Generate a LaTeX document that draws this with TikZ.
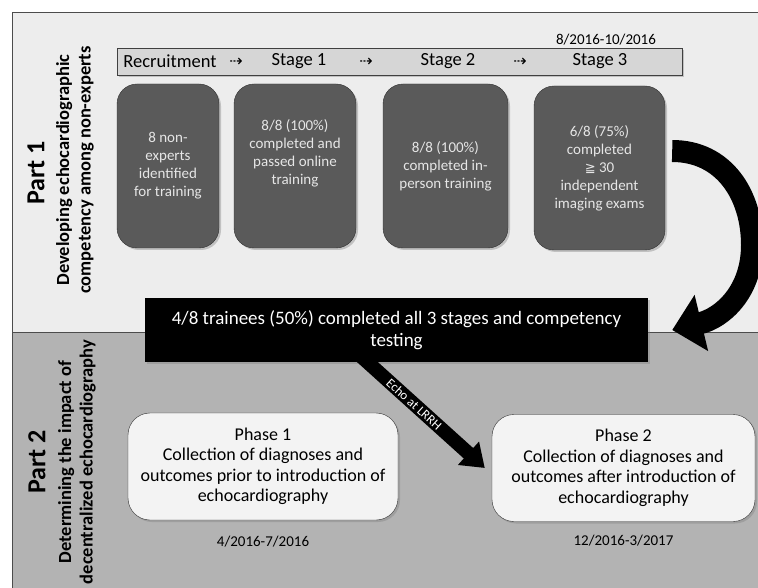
\documentclass[tikz,border=0pt]{standalone}
\usepackage{fontspec}
\setmainfont{Carlito}
\newfontfamily\symfont{DejaVu Sans}
\usetikzlibrary{arrows.meta, positioning, shadows}
\usepackage{xcolor}
\definecolor{partone}{HTML}{EDEDED}
\definecolor{parttwo}{HTML}{B3B3B3}
\definecolor{stagegray}{HTML}{5A5A5A}
\definecolor{headgray}{HTML}{D6D6D6}
\definecolor{phasefill}{HTML}{F3F3F3}
\definecolor{lighttext}{HTML}{E6E6E6}

\begin{document}
\begin{tikzpicture}[x=1pt, y=-1pt, >=Stealth,
  shade/.style={drop shadow={opacity=0.4, shadow xshift=2pt, shadow yshift=-2pt}},
  stagebox/.style={rectangle, rounded corners=20pt, draw=black!80, fill=stagegray, text=lighttext, minimum height=164pt, minimum width=#1, align=center, font=\fontsize{15}{18}\selectfont, shade},
  stagebox/.default=110pt,
  headword/.style={font=\fontsize{18.5}{22}\selectfont, inner sep=0pt},
  headarrow/.style={font=\symfont\fontsize{16}{18}\selectfont, inner sep=0pt},
  phasebox/.style={rectangle, rounded corners=22pt, draw=black!80, fill=phasefill, minimum height=107pt, minimum width=#1, align=center, font=\fontsize{18}{20.5}\selectfont, shade},
  datelabel/.style={font=\fontsize{15}{18}\selectfont, inner sep=0pt},
  partlabel/.style={rotate=90, font=\bfseries\fontsize{26}{30}\selectfont, inner sep=0pt},
  parttopic/.style={rotate=90, align=center, font=\bfseries\fontsize{18.5}{21.5}\selectfont, inner sep=0pt}]
  \useasboundingbox (0,0) rectangle (758,588);
  \draw[black!70, fill=partone] (12,12) rectangle (762,332);
  \draw[black!70, fill=parttwo] (12,332) rectangle (762,592);

  \node[partlabel] (part1) at (36,173) {Part 1};
  \node[parttopic] (topic1) at (75,170) {Developing echocardiographic\\competency among non-experts};
  \node[partlabel] (part2) at (37,462) {Part 2};
  \node[parttopic] (topic2) at (77,462) {Determining the impact of\\decentralized echocardiography};

  \node[rectangle, draw=black!75, fill=headgray, minimum width=565pt, minimum height=27pt, shade] (header) at (399.5,61.5) {};
  \node[headword] (rec) at (170,61) {Recruitment};
  \node[headword] (st1) at (299,61) {Stage 1};
  \node[headword] (st2) at (448,61) {Stage 2};
  \node[headword] (st3) at (600,61) {Stage 3};
  \node[headarrow] at (236,62) {⇢};
  \node[headarrow] at (366,62) {⇢};
  \node[headarrow] at (520,62) {⇢};
  \node[datelabel] (stagedate) at (606,40) {8/2016-10/2016};

  \node[stagebox=102pt] (box1) at (168,166) {8 non-\\experts\\identified\\for training};
  \node[stagebox=122pt] (box2) at (295,166) {8/8 (100\%)\\completed and\\passed online\\training\\[9pt]};
  \node[stagebox=125pt] (box3) at (445.5,166) {8/8 (100\%)\\completed in-\\person training};
  \node[stagebox=131pt] (box4) at (599.5,168) {6/8 (75\%)\\completed\\{\symfont\fontsize{13}{18}\selectfont ≧} 30\\independent\\imaging exams};

  \node[rectangle, fill=black, text=white, minimum width=503pt, minimum height=64pt, align=center, font=\fontsize{19}{21.5}\selectfont, shade] (result) at (396.5,330) {4/8 trainees (50\%) completed all 3 stages and competency\\testing};

  \node[phasebox=270pt] (phase1) at (263,466.5) {Phase 1\\Collection of diagnoses and\\outcomes prior to introduction of\\echocardiography};
  \node[phasebox=263pt] (phase2) at (623.5,468) {Phase 2\\Collection of diagnoses and\\outcomes after introduction of\\echocardiography};
  \node[datelabel] (date1) at ([yshift=-21pt]phase1.south) {4/2016-7/2016};
  \node[datelabel] (date2) at ([yshift=-19pt]phase2.south) {12/2016-3/2017};

  \coordinate (loopstart) at ([xshift=7pt, yshift=17pt]box4.east);
  \coordinate (looptip) at ([xshift=24pt]result.east);
  \draw[line width=22pt, -{Triangle[width=56pt, length=30pt]}] (loopstart) .. controls (724,151) and (752,195) .. (752,245) .. controls (752,292) and (722,318) .. (looptip);
  \draw[line width=14pt, -{Triangle[width=30pt, length=22pt]}] ([xshift=-40pt, yshift=10pt]result.south) -- node[pos=0.45, sloped, text=white, font=\fontsize{13}{15}\selectfont, inner sep=0pt] {Echo at LRRH} ([xshift=-7pt]phase2.west);
\end{tikzpicture}
\end{document}
